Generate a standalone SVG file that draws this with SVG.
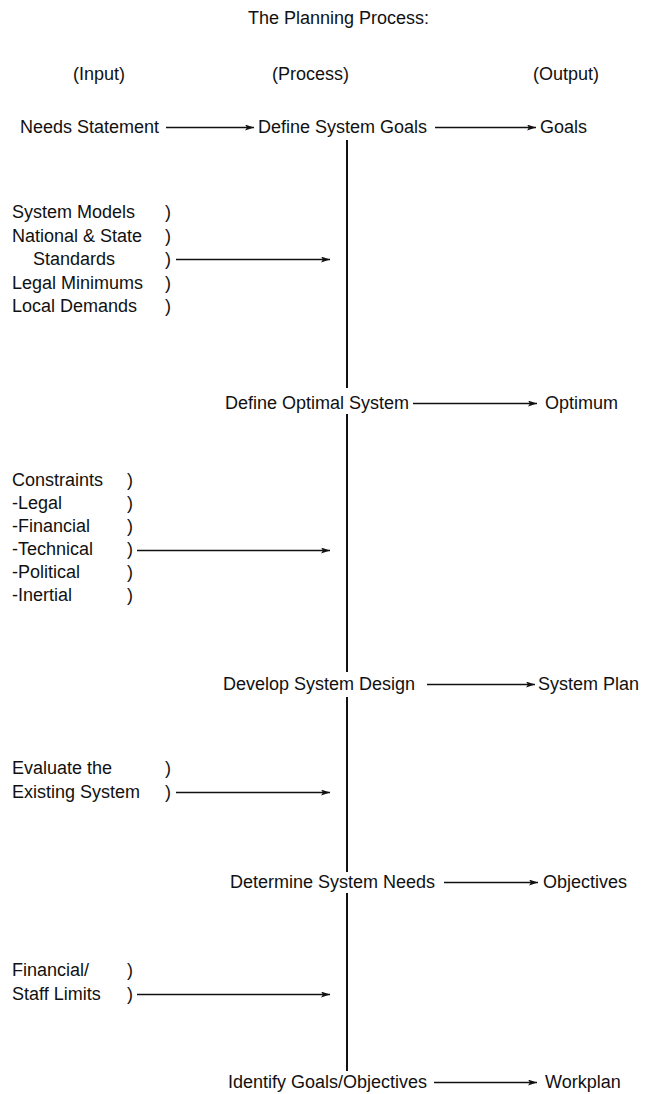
<svg xmlns="http://www.w3.org/2000/svg" width="650" height="1094" viewBox="0 0 650 1094">
<defs>
<style>
text{font-family:"Liberation Sans",Arial,Helvetica,sans-serif;font-size:18px;fill:#111}
.ln{stroke:#111;stroke-width:1.3;fill:none}
.spine{stroke:#111;stroke-width:2;fill:none}
</style>
<marker id="ah" viewBox="0 0 9 6" refX="9" refY="3" markerWidth="9" markerHeight="6" markerUnits="userSpaceOnUse" orient="auto">
<path d="M0,0 L9,3 L0,6 L2,3 z" fill="#111"/>
</marker>
</defs>
<rect width="650" height="1094" fill="#fff"/>

<g id="title"><text x="248" y="24">The Planning Process:</text></g>
<g id="headers">
<text x="73" y="80">(Input)</text>
<text x="272" y="80">(Process)</text>
<text x="533" y="80">(Output)</text>
</g>

<g id="connectors">
<path class="spine" d="M347,140 V388 M347,414 V672 M347,697 V872 M347,893 V1071"/>
<path class="ln" marker-end="url(#ah)" d="M166,127.5 H254"/>
<path class="ln" marker-end="url(#ah)" d="M435,127.5 H536"/>
<path class="ln" marker-end="url(#ah)" d="M176,259.5 H330"/>
<path class="ln" marker-end="url(#ah)" d="M413,403.5 H537"/>
<path class="ln" marker-end="url(#ah)" d="M137,550.5 H330"/>
<path class="ln" marker-end="url(#ah)" d="M427,684.5 H535"/>
<path class="ln" marker-end="url(#ah)" d="M176,792.5 H330"/>
<path class="ln" marker-end="url(#ah)" d="M444,882.5 H538"/>
<path class="ln" marker-end="url(#ah)" d="M434,1082.5 H537"/>
<path class="ln" marker-end="url(#ah)" d="M137,994.5 H330"/>
</g>

<g id="needs-statement"><text x="20" y="133">Needs Statement</text></g>
<g id="define-system-goals"><text x="258" y="133">Define System Goals</text></g>
<g id="goals"><text x="540" y="133">Goals</text></g>

<g id="system-inputs">
<text x="12" y="218">System Models</text>
<text x="12" y="242">National &amp; State</text>
<text x="33" y="265">Standards</text>
<text x="12" y="289">Legal Minimums</text>
<text x="12" y="312">Local Demands</text>
<text x="165" y="218">)</text>
<text x="165" y="242">)</text>
<text x="165" y="265">)</text>
<text x="165" y="289">)</text>
<text x="165" y="312">)</text>
</g>

<g id="define-optimal-system"><text x="225" y="409">Define Optimal System</text></g>
<g id="optimum"><text x="545" y="409">Optimum</text></g>

<g id="constraints">
<text x="12" y="486">Constraints</text>
<text x="12" y="509">-Legal</text>
<text x="12" y="532">-Financial</text>
<text x="12" y="555">-Technical</text>
<text x="12" y="578">-Political</text>
<text x="12" y="601">-Inertial</text>
<text x="127" y="486">)</text>
<text x="127" y="509">)</text>
<text x="127" y="532">)</text>
<text x="127" y="555">)</text>
<text x="127" y="578">)</text>
<text x="127" y="601">)</text>
</g>

<g id="develop-system-design"><text x="223" y="690">Develop System Design</text></g>
<g id="system-plan"><text x="538" y="690">System Plan</text></g>

<g id="evaluate-existing">
<text x="12" y="774">Evaluate the</text>
<text x="12" y="798">Existing System</text>
<text x="165" y="774">)</text>
<text x="165" y="798">)</text>
</g>

<g id="determine-system-needs"><text x="230" y="888">Determine System Needs</text></g>
<g id="objectives"><text x="543" y="888">Objectives</text></g>

<g id="financial-staff">
<text x="12" y="976">Financial/</text>
<text x="12" y="1000">Staff Limits</text>
<text x="127" y="976">)</text>
<text x="127" y="1000">)</text>
</g>

<g id="identify-goals-objectives"><text x="228" y="1088">Identify Goals/Objectives</text></g>
<g id="workplan"><text x="545" y="1088">Workplan</text></g>
</svg>
